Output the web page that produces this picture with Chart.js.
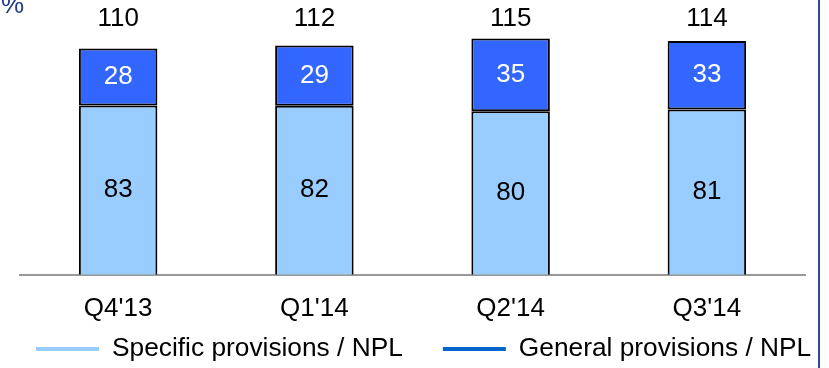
<!DOCTYPE html>
<html>
<head>
<meta charset="utf-8">
<script src="https://cdn.jsdelivr.net/npm/chart.js@4.4.0/dist/chart.umd.min.js"></script>
<style>
  html, body { margin: 0; padding: 0; background: #fff; }
  #wrap { position: relative; width: 829px; height: 368px; overflow: hidden; }
  #frame { position: absolute; left: 818px; top: 0; width: 2px; height: 368px; background: #2b4aa0; }
</style>
</head>
<body>
<div id="wrap">
  <canvas id="chart" width="829" height="368"></canvas>
  <div id="frame"></div>
</div>
<script>
const quarters = ["Q4'13", "Q1'14", "Q2'14", "Q3'14"];
const specificNpl = [82.6, 82.4, 79.8, 80.6];
const generalNpl = [27.8, 29.4, 35.4, 33.4];
const seriesNames = ['Specific provisions / NPL', 'General provisions / NPL'];
const unitLabel = '%';

const FONT = '"Liberation Sans", Arial, sans-serif';
const barColors = ['#99ccff', '#3366ff'];
const legendColors = ['#99ccff', '#0066cc'];

// labels inside the segments, totals in a row above, and the unit in the corner
const valueLabels = {
    id: 'valueLabels',
    afterDatasetsDraw(chart) {
        const ctx = chart.ctx;
        ctx.save();
        ctx.font = '26px ' + FONT;
        ctx.textAlign = 'center';
        ctx.textBaseline = 'middle';
        chart.data.datasets.forEach((ds, i) => {
            chart.getDatasetMeta(i).data.forEach((bar, j) => {
                ctx.fillStyle = i === 0 ? '#000' : '#fff';
                ctx.fillText(Math.round(ds.data[j]), bar.x, (bar.y + bar.base) / 2);
            });
        });
        const totalsY = chart.chartArea.top + 19;
        chart.getDatasetMeta(1).data.forEach((bar, j) => {
            ctx.fillStyle = '#000';
            ctx.fillText(Math.round(specificNpl[j] + generalNpl[j]), bar.x, totalsY);
        });
        ctx.fillStyle = '#203c8c';
        ctx.textAlign = 'left';
        ctx.textBaseline = 'alphabetic';
        ctx.fillText(unitLabel, 1, 13);
        ctx.restore();
    }
};

// legend on one row: line sample then the series name
const lineLegend = {
    id: 'lineLegend',
    afterDraw(chart) {
        const ctx = chart.ctx;
        const y = chart.height - 19;
        let x = 36;
        ctx.save();
        ctx.font = '26.3px ' + FONT;
        ctx.textBaseline = 'middle';
        ctx.textAlign = 'left';
        seriesNames.forEach((name, i) => {
            ctx.strokeStyle = legendColors[i];
            ctx.lineWidth = 4;
            ctx.beginPath();
            ctx.moveTo(x, y);
            ctx.lineTo(x + 63, y);
            ctx.stroke();
            ctx.fillStyle = '#000';
            ctx.fillText(name, x + 76, y);
            x += 76 + ctx.measureText(name).width + 40;
        });
        ctx.restore();
    }
};

const ctx = document.getElementById('chart').getContext('2d');
new Chart(ctx, {
    type: 'bar',
    data: {
        labels: quarters,
        datasets: [{
            label: seriesNames[0],
            data: specificNpl,
            backgroundColor: barColors[0],
            borderColor: '#000',
            borderWidth: 2,
            borderSkipped: 'start',
            categoryPercentage: 0.8,
            barPercentage: 0.5
        }, {
            label: seriesNames[1],
            data: generalNpl,
            backgroundColor: barColors[1],
            borderColor: '#000',
            borderWidth: 2,
            borderSkipped: false,
            categoryPercentage: 0.8,
            barPercentage: 0.5
        }]
    },
    options: {
        responsive: false,
        animation: false,
        layout: { padding: { left: 20, top: 0, right: 0, bottom: 26 } },
        scales: {
            x: {
                stacked: true,
                grid: { display: false, drawTicks: false },
                border: { display: true, color: '#999999', width: 2 },
                ticks: { color: '#000', font: { size: 26, family: FONT }, padding: 18 }
            },
            y: {
                stacked: true,
                min: 0,
                max: 134,
                position: 'right',
                grid: { display: false, drawTicks: false },
                border: { display: false },
                ticks: { display: false },
                afterFit(scale) { scale.width = 24; }
            }
        },
        plugins: {
            tooltip: { enabled: false },
            legend: { display: false }
        }
    },
    plugins: [valueLabels, lineLegend]
});
</script>
</body>
</html>
